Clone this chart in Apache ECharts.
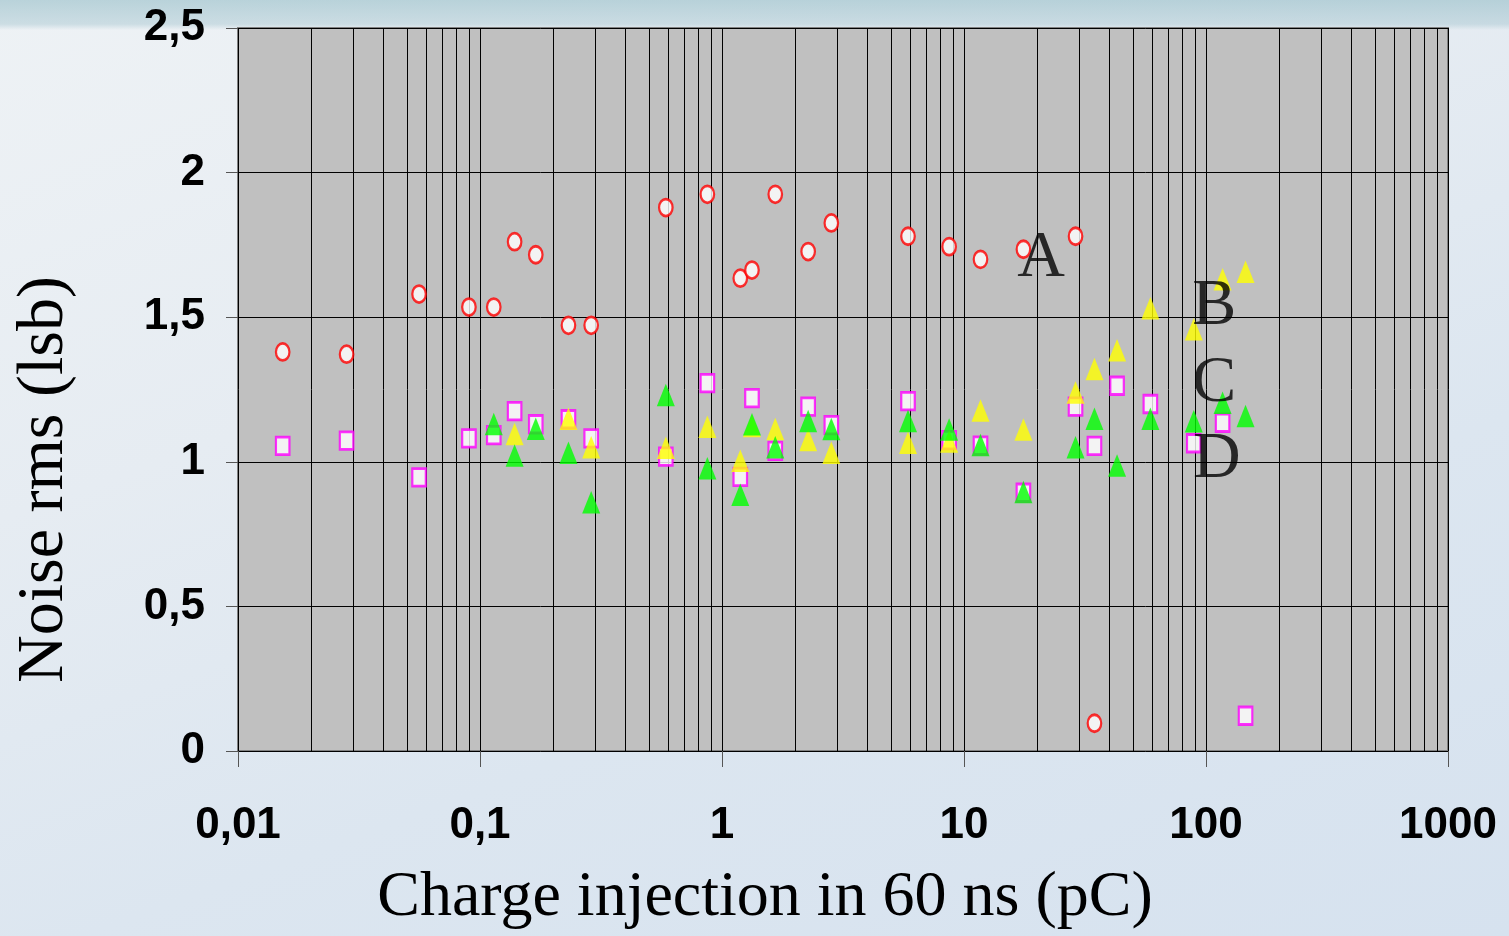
<!DOCTYPE html>
<html>
<head>
<meta charset="utf-8">
<script src="https://cdn.jsdelivr.net/npm/echarts@6/dist/echarts.min.js"></script>
<style>
    html, body {
        margin: 0;
        padding: 0;
        width: 1509px;
        height: 936px;
        overflow: hidden;
    }
    body {
        background:
            linear-gradient(180deg, rgba(150,190,200,0.6) 0px, rgba(170,200,210,0.5) 24px, rgba(255,255,255,0) 30px),
            linear-gradient(160deg, #eef2f5 0%, #e6ecf2 35%, #dce6f0 65%, #d6e2ef 100%);
    }
    #chart {
        width: 1509px;
        height: 936px;
    }
</style>
</head>
<body>
<div id="chart"></div>
<script>
// charge (pC) for each point, one array per series
const xA = [0.0153, 0.0281, 0.056, 0.09, 0.114, 0.139, 0.17, 0.232, 0.288, 0.586, 0.87,
    1.19, 1.33, 1.66, 2.27, 2.83, 5.87, 8.68, 11.7, 17.6, 28.9, 34.6];
const yA = [1.38, 1.372, 1.58, 1.535, 1.535, 1.761, 1.716, 1.472, 1.472, 1.879, 1.925,
    1.635, 1.663, 1.925, 1.727, 1.826, 1.78, 1.744, 1.70, 1.735, 1.78, 0.096];

const xD = [0.0153, 0.0281, 0.056, 0.09, 0.114, 0.139, 0.17, 0.232, 0.288, 0.586, 0.87,
    1.19, 1.33, 1.66, 2.27, 2.83, 5.87, 8.68, 11.7, 17.6, 28.9, 34.6, 42.9, 58.9, 89.0, 117.1, 145.7];
const yD = [1.055, 1.073, 0.946, 1.081, 1.092, 1.175, 1.13, 1.147, 1.081, 1.018, 1.272,
    0.948, 1.22, 1.038, 1.191, 1.127, 1.21, 1.075, 1.056, 0.893, 1.191, 1.055, 1.263, 1.20, 1.064, 1.135, 0.122];

const xB = [0.139, 0.232, 0.288, 0.586, 0.87, 1.19, 1.33, 1.66, 2.27, 2.83, 5.87, 8.68,
    11.7, 17.6, 28.9, 34.6, 42.9, 58.9, 89.0, 117.1, 145.7];
const yB = [1.096, 1.149, 1.05, 1.049, 1.121, 1.004, 1.124, 1.113, 1.075, 1.031, 1.066, 1.07,
    1.177, 1.112, 1.24, 1.321, 1.386, 1.531, 1.458, 1.631, 1.657];

const xC = [0.114, 0.139, 0.17, 0.232, 0.288, 0.586, 0.87, 1.19, 1.33, 1.66, 2.27, 2.83,
    5.87, 8.68, 11.7, 17.6, 28.9, 34.6, 42.9, 58.9, 89.0, 117.1, 145.7];
const yC = [1.131, 1.022, 1.114, 1.031, 0.86, 1.231, 0.978, 0.886, 1.13, 1.05, 1.141, 1.113,
    1.141, 1.112, 1.058, 0.896, 1.05, 1.149, 0.987, 1.149, 1.14, 1.204, 1.158];

// curve letters placed in data space
const tagNames = ['A', 'B', 'C', 'D'];
const tagX = [20.8, 108.2, 108.2, 110.8];
const tagY = [1.701, 1.537, 1.271, 1.006];

const xTickLabels = {0.01: '0,01', 0.1: '0,1', 1: '1', 10: '10', 100: '100', 1000: '1000'};
const yTickLabels = {0: '0', 0.5: '0,5', 1: '1', 1.5: '1,5', 2: '2', 2.5: '2,5'};

const tickFont = "'Liberation Sans', Arial, sans-serif";
const serifFont = "'Liberation Serif', 'Times New Roman', serif";
const gridColor = '#000';

function pairs(xs, ys) {
    return xs.map(function(x, i) { return [x, ys[i]]; });
}

// minor log grid lines 2..9 in every decade
let minorLines = [];
for (let k = -2; k <= 2; k++) {
    for (let m = 2; m <= 9; m++) {
        minorLines.push({xAxis: m * Math.pow(10, k)});
    }
}

const chart = echarts.init(document.getElementById('chart'));

const option = {
    animation: false,
    grid: {
        left: 238,
        right: 61,
        top: 28,
        bottom: 185,
        show: true,
        backgroundColor: '#c0c0c0',
        borderColor: '#808080',
        borderWidth: 2
    },
    xAxis: {
        type: 'log',
        logBase: 10,
        min: 0.01,
        max: 1000,
        name: 'Charge injection in 60 ns (pC)',
        nameLocation: 'middle',
        nameGap: 115,
        nameTextStyle: {
            fontFamily: serifFont,
            fontSize: 64,
            color: '#000',
            padding: [0, 156, 0, 0]
        },
        axisLine: {show: false},
        axisTick: {
            show: true,
            length: 16,
            lineStyle: {color: '#555', width: 1}
        },
        axisLabel: {
            margin: 53,
            fontFamily: tickFont,
            fontWeight: 'bold',
            fontSize: 44,
            color: '#000',
            formatter: function(v) {
                return xTickLabels[v] !== undefined ? xTickLabels[v] : '';
            }
        },
        splitLine: {
            show: true,
            lineStyle: {color: gridColor, width: 1}
        },
        minorTick: {show: false},
        minorSplitLine: {show: false}
    },
    yAxis: {
        type: 'value',
        min: 0,
        max: 2.5,
        interval: 0.5,
        name: 'Noise rms (lsb)',
        nameLocation: 'middle',
        nameGap: 160,
        nameRotate: 90,
        nameTextStyle: {
            fontFamily: serifFont,
            fontSize: 66,
            color: '#000',
            padding: [0, 180, 0, 0]
        },
        axisLine: {show: false},
        axisTick: {
            show: true,
            length: 12,
            lineStyle: {color: '#555', width: 1}
        },
        axisLabel: {
            margin: 33,
            fontFamily: tickFont,
            fontWeight: 'bold',
            fontSize: 44,
            color: '#000',
            formatter: function(v) {
                return yTickLabels[v] !== undefined ? yTickLabels[v] : String(v).replace('.', ',');
            }
        },
        splitLine: {
            show: true,
            lineStyle: {color: gridColor, width: 1}
        }
    },
    series: [
        {
            // minor grid
            type: 'line',
            data: [],
            z: 1,
            silent: true,
            markLine: {
                z: 1,
                silent: true,
                animation: false,
                symbol: ['none', 'none'],
                label: {show: false},
                lineStyle: {color: gridColor, width: 1, type: 'solid'},
                emphasis: {disabled: true},
                data: minorLines
            }
        },
        {
            name: 'A',
            type: 'scatter',
            z: 3,
            symbol: 'circle',
            symbolSize: [13.5, 17],
            itemStyle: {color: '#ffffff', borderColor: '#ff0000', borderWidth: 2.5},
            data: pairs(xA, yA)
        },
        {
            name: 'D',
            type: 'scatter',
            z: 3,
            symbol: 'rect',
            symbolSize: [13.5, 17.5],
            itemStyle: {color: '#ffffff', borderColor: '#ff00ff', borderWidth: 2.5},
            data: pairs(xD, yD)
        },
        {
            name: 'B',
            type: 'scatter',
            z: 3,
            symbol: 'triangle',
            symbolSize: [18, 22.5],
            itemStyle: {color: '#ffff00'},
            data: pairs(xB, yB)
        },
        {
            name: 'C',
            type: 'scatter',
            z: 3,
            symbol: 'triangle',
            symbolSize: [18, 22.5],
            itemStyle: {color: '#00ff00'},
            data: pairs(xC, yC)
        },
        {
            name: 'tags',
            type: 'scatter',
            z: 4,
            symbolSize: 0,
            silent: true,
            label: {
                show: true,
                position: 'inside',
                fontFamily: serifFont,
                fontSize: 66,
                color: '#000',
                formatter: function(p) { return tagNames[p.dataIndex]; }
            },
            data: pairs(tagX, tagY)
        }
    ]
};

chart.setOption(option);
</script>
</body>
</html>
